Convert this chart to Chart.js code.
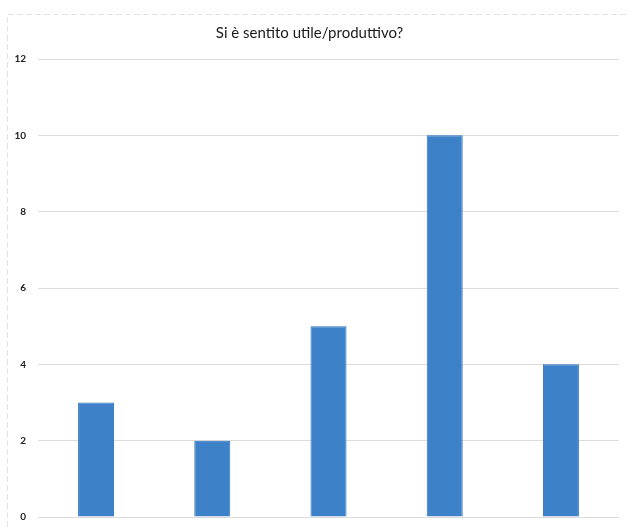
<!DOCTYPE html>
<html>
<head>
<meta charset="utf-8">
<script src="https://cdn.jsdelivr.net/npm/chart.js@4"></script>
<style>
html,body{margin:0;padding:0;background:#fff;}
#wrap{width:628px;height:527px;position:relative;}
</style>
</head>
<body>
<div id="wrap"><canvas id="c" width="628" height="527"></canvas></div>
<script>
const categories = ["1", "2", "3", "4", "5"];
const values = [3, 2, 5, 10, 4];
const yTicks = [0, 2, 4, 6, 8, 10, 12];
const chartTitle = "Si è sentito utile/produttivo?";

const frame = {
  id: 'frame',
  beforeDraw(chart) {
    const ctx = chart.ctx;
    ctx.save();
    ctx.strokeStyle = '#e2e2e2';
    ctx.lineWidth = 1;
    ctx.setLineDash([6, 3]);
    ctx.beginPath();
    ctx.moveTo(7.5, 527);
    ctx.lineTo(7.5, 14.5);
    ctx.lineTo(628, 14.5);
    ctx.stroke();
    ctx.restore();
  }
};

new Chart(document.getElementById('c'), {
  type: 'bar',
  data: {
    labels: categories,
    datasets: [{
      data: values,
      backgroundColor: '#3d82c9',
      borderColor: '#2a6fbe',
      borderWidth: 1,
      categoryPercentage: 1,
      barPercentage: 0.31
    }]
  },
  options: {
    responsive: false,
    animation: false,
    layout: { padding: { left: 0, right: 9, top: 0, bottom: 10 } },
    plugins: {
      legend: { display: false },
      tooltip: { enabled: false },
      title: {
        display: true,
        text: chartTitle,
        color: '#1a1a1a',
        font: { family: 'Lato', size: 15, weight: 'normal' },
        padding: { top: 24, bottom: 17 }
      }
    },
    scales: {
      x: {
        display: false
      },
      y: {
        min: 0, max: 12,
        afterBuildTicks(s) { s.ticks = yTicks.map(v => ({ value: v })); },
        grid: { color: '#dcdcdc', drawTicks: false },
        border: { display: false },
        ticks: {
          color: '#222',
          font: { family: 'Lato', size: 10, weight: 'bold' },
          padding: 12
        },
        afterFit(s) { s.width = 38; s.paddingTop = 0; s.paddingBottom = 0; }
      }
    }
  },
  plugins: [frame]
});
</script>
</body>
</html>
